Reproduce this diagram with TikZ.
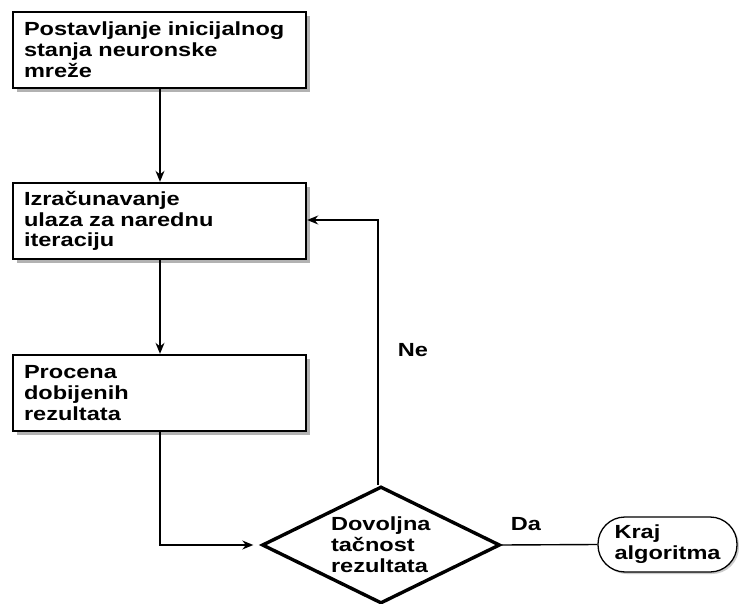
\documentclass[tikz,border=0pt]{standalone}
\usepackage{fontspec}
\setmainfont[FakeStretch=1.24]{Liberation Sans}
\usetikzlibrary{shapes.geometric,shadows,arrows.meta}

\tikzset{
  stepbox/.style={draw=black, line width=2.4pt, fill=white, rectangle,
    minimum width=293pt, minimum height=76pt, text width=271pt,
    inner xsep=11pt, inner ysep=0pt, align=left,
    drop shadow={shadow xshift=4pt, shadow yshift=-4pt, fill=black!30, opacity=1}},
  decision/.style={draw=black, line width=3.4pt, fill=white, diamond,
    minimum width=238pt, minimum height=117pt, aspect=2, inner sep=0pt,
    text width=100pt, align=left},
  terminal/.style={draw=black, line width=1.3pt, fill=white, rectangle,
    rounded corners=27pt, minimum width=139pt, minimum height=55pt,
    inner sep=0pt, text width=106pt, align=left,
    drop shadow={shadow xshift=2pt, shadow yshift=-2pt, fill=black!20, opacity=1}},
  flow/.style={line width=1.4pt, -{Stealth[length=11pt, width=9pt]}},
  plain/.style={line width=1.4pt},
  lbl/.style={inner sep=0pt},
}

\begin{document}
\begin{tikzpicture}[x=1pt, y=-1pt,
  every node/.style={font=\fontsize{19}{20.8}\selectfont\bfseries}]
  \useasboundingbox[fill=white] (0,0) rectangle (739,604);

  % process steps
  \node[stepbox] (init) at (159.5,50)
    {Postavljanje inicijalnog\\stanja neuronske\\mreže};
  \node[stepbox] (input) at (159.5,221)
    {Izračunavanje\\ulaza za narednu\\iteraciju};
  \node[stepbox] (eval) at (159.5,393)
    {Procena\\dobijenih\\rezultata};

  % decision and end
  \node[decision] (check) at (381,545)
    {Dovoljna\\tačnost\\rezultata};
  \node[terminal] (done) at (667.5,544.5)
    {Kraj\\algoritma};

  % bends of the routed connectors
  \coordinate (loopTop) at (378,220);
  \coordinate (inBend) at (160,545);

  % connectors
  \draw[flow] (init.south -| 160,0) -- (input.north -| 160,0);
  \draw[flow] (input.south -| 160,0) -- (eval.north -| 160,0);
  \draw[flow, shorten >=7pt] (eval.south -| inBend) -- (inBend) -- (check.west);
  \draw[flow] (check.north -| loopTop) -- (loopTop) -- (input.east |- loopTop);
  \draw[plain] (check.east) -- (done.west);

  % branch labels
  \node[lbl] (ne) at (413,350) {Ne};
  \node[lbl] (da) at (526,524) {Da};
\end{tikzpicture}
\end{document}
